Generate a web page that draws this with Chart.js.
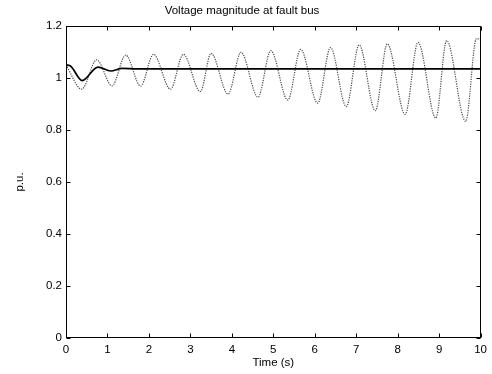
<!DOCTYPE html>
<html>
<head>
<meta charset="utf-8">
<script src="https://cdn.jsdelivr.net/npm/chart.js@4"></script>
<style>
  html, body { margin: 0; padding: 0; background: #fff; }
</style>
</head>
<body>
<canvas id="voltChart" width="492" height="374"></canvas>
<script>
// bus voltage with the stabilising controller (solid) and without it (dotted)
var ctrlTime = [0, 0.1, 0.39, 0.77, 1.08, 1.35, 1.7, 10];
var ctrlVolt = [1.05, 1.047, 0.99, 1.042, 1.027, 1.037, 1.035, 1.035];

var noCtrlTime = [0, 0.38, 0.74, 1.11, 1.44, 1.80, 2.11, 2.52, 2.83, 3.24, 3.50, 3.91, 4.22, 4.63, 4.94,
  5.35, 5.66, 6.07, 6.38, 6.76, 7.07, 7.46, 7.75, 8.18, 8.49, 8.92, 9.18, 9.64, 9.90, 10];
var noCtrlVolt = [1.05, 0.957, 1.07, 0.97, 1.088, 0.969, 1.091, 0.957, 1.091, 0.948, 1.095, 0.938, 1.099, 0.926, 1.105,
  0.915, 1.110, 0.903, 1.117, 0.890, 1.127, 0.874, 1.131, 0.860, 1.137, 0.846, 1.144, 0.833, 1.152, 1.148];

var xTicks = [0, 1, 2, 3, 4, 5, 6, 7, 8, 9, 10];
var yTicks = [0, 0.2, 0.4, 0.6, 0.8, 1, 1.2];
var yTickLabels = ['0', '0.2', '0.4', '0.6', '0.8', '1', '1.2'];

function toPoints(xs, ys) {
  return xs.map(function (x, i) { return { x: x, y: ys[i] }; });
}

var font = { family: "'Liberation Sans', Arial, sans-serif", size: 11.5 };

// matlab style box with inward ticks on all four sides
var boxPlugin = {
  id: 'box',
  afterDraw: function (chart) {
    var c = chart.ctx, a = chart.chartArea;
    var sx = chart.scales.x, sy = chart.scales.y;
    var L = Math.round(a.left) + 0.5, R = Math.round(a.right) - 0.5;
    var T = Math.round(a.top) + 0.5, B = Math.round(a.bottom) - 0.5;
    c.save();
    c.strokeStyle = '#000';
    c.lineWidth = 1;
    c.strokeRect(L, T, R - L, B - T);
    c.beginPath();
    xTicks.forEach(function (v) {
      var px = Math.round(sx.getPixelForValue(v)) + 0.5;
      c.moveTo(px, B); c.lineTo(px, B - 4);
      c.moveTo(px, T); c.lineTo(px, T + 4);
    });
    yTicks.forEach(function (v) {
      var py = Math.round(sy.getPixelForValue(v)) + 0.5;
      c.moveTo(L, py); c.lineTo(L + 4, py);
      c.moveTo(R, py); c.lineTo(R - 4, py);
    });
    c.stroke();
    c.restore();
  }
};

var ctx = document.getElementById('voltChart').getContext('2d');
var chart = new Chart(ctx, {
  type: 'line',
  data: {
    datasets: [{
      data: toPoints(ctrlTime, ctrlVolt),
      borderColor: '#000',
      borderWidth: 1.7,
      pointRadius: 0,
      cubicInterpolationMode: 'monotone'
    }, {
      data: toPoints(noCtrlTime, noCtrlVolt),
      borderColor: '#4a4a4a',
      borderWidth: 1.2,
      borderDash: [1.2, 1.2],
      pointRadius: 0,
      cubicInterpolationMode: 'monotone'
    }]
  },
  options: {
    responsive: false,
    animation: false,
    layout: { padding: { left: 0, right: 8, top: 0, bottom: 0 } },
    plugins: {
      legend: { display: false },
      tooltip: { enabled: false },
      title: {
        display: true,
        text: 'Voltage magnitude at fault bus',
        color: '#000',
        font: { family: font.family, size: 11.5, weight: 'normal' },
        padding: { top: 3.5, bottom: 8.7 }
      }
    },
    scales: {
      x: {
        type: 'linear',
        min: 0,
        max: 10,
        afterBuildTicks: function (s) { s.ticks = xTicks.map(function (v) { return { value: v }; }); },
        afterFit: function (s) { s.height = 36; },
        ticks: { color: '#000', font: font, padding: 5, maxRotation: 0, autoSkip: false },
        grid: { display: false, drawTicks: false },
        border: { display: false },
        title: { display: true, text: 'Time (s)', color: '#000', font: font, padding: { top: 4, bottom: 4 } }
      },
      y: {
        type: 'linear',
        min: 0,
        max: 1.2,
        afterBuildTicks: function (s) { s.ticks = yTicks.map(function (v) { return { value: v }; }); },
        afterFit: function (s) { s.width = 66; },
        ticks: {
          color: '#000', font: font, padding: 4, autoSkip: false,
          callback: function (v) { return yTickLabels[yTicks.indexOf(v)]; }
        },
        grid: { display: false, drawTicks: false },
        border: { display: false },
        title: { display: true, text: 'p.u.', color: '#000', font: font, padding: { top: 13, bottom: 0 } }
      }
    }
  },
  plugins: [boxPlugin]
});
</script>
</body>
</html>
